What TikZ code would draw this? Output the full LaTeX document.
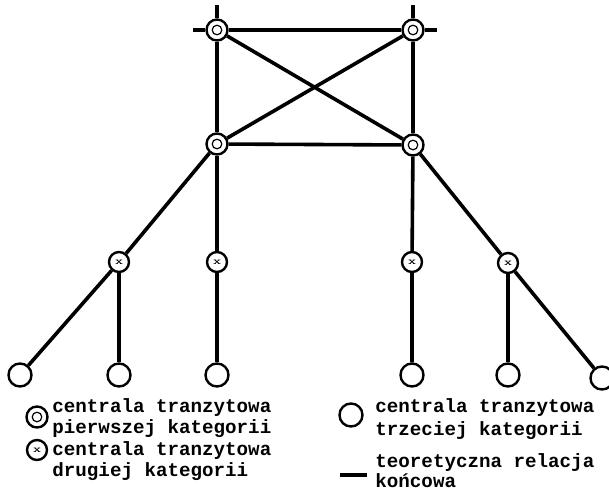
\documentclass[tikz,border=0pt]{standalone}
\usepackage{fontspec}
\newfontfamily\opisfont{Liberation Mono}
\usepackage{tikz}
\usetikzlibrary{positioning}

\begin{document}
\begin{tikzpicture}[x=0.5pt, y=-0.5pt,
      kat1/.style={circle, draw, line width=1.2pt, fill=white, inner sep=0pt,
                   minimum size=10.5pt,
                   path picture={\draw[line width=0.6pt] (path picture bounding box.center) circle (2.4pt);}},
      kat2/.style={circle, draw, line width=1.2pt, fill=white, inner sep=0pt,
                   minimum size=10pt, font=\tiny\bfseries},
      kat3/.style={circle, draw, line width=1.2pt, fill=white, inner sep=0pt,
                   minimum size=11.5pt},
      rel/.style={line width=1.8pt},
      opis/.style={anchor=base west, inner sep=0pt,
                   font=\opisfont\bfseries\fontsize{9.6}{10}\selectfont}
    ]
      \useasboundingbox (0,0) rectangle (609,499);
      % centrale pierwszej kategorii
      \node[kat1] (gl) at (217,30) {};
      \node[kat1] (gp) at (413,30) {};
      \node[kat1] (dl) at (217,144) {};
      \node[kat1] (dp) at (413,145) {};
      \coordinate (gl-w) at (193,30);
      \coordinate (gl-n) at (217,5);
      \coordinate (gp-e) at (437,30);
      \coordinate (gp-n) at (413,5);
      % centrale drugiej kategorii
      \node[kat2] (a2) at (119,262) {x};
      \node[kat2] (b2) at (217,262) {x};
      \node[kat2] (c2) at (412,262) {x};
      \node[kat2] (d2) at (508,263) {x};
      % centrale trzeciej kategorii
      \node[kat3] (a3) at (20,375) {};
      \node[kat3] (b3) at (119,375) {};
      \node[kat3] (c3) at (217,375) {};
      \node[kat3] (d3) at (412,375) {};
      \node[kat3] (e3) at (508,375) {};
      \node[kat3] (f3) at (602,378) {};
      % relacje
      \draw[rel] (gl-w) -- (gl) -- (gp) -- (gp-e);
      \draw[rel] (gl-n) -- (gl) -- (dl);
      \draw[rel] (gp-n) -- (gp) -- (dp);
      \draw[rel] (gl) -- (dp);
      \draw[rel] (gp) -- (dl);
      \draw[rel] (dl) -- (dp);
      \draw[rel] (dl) -- (a2) -- (a3);
      \draw[rel] (a2) -- (b3);
      \draw[rel] (dl) -- (b2) -- (c3);
      \draw[rel] (dp) -- (c2) -- (d3);
      \draw[rel] (dp) -- (d2) -- (f3);
      \draw[rel] (d2) -- (e3);
      % legenda
      \node[kat1] (l1) at (37,417) {};
      \node[opis] (t1) at (52,412) {centrala tranzytowa};
      \node[opis] (t2) at (52,433) {pierwszej kategorii};
      \node[kat2] (l2) at (37,450) {x};
      \node[opis] (t3) at (52,455) {centrala tranzytowa};
      \node[opis] (t4) at (52,476) {drugiej kategorii};
      \node[kat3] (l3) at (351,415) {};
      \node[opis] (t5) at (375,412) {centrala tranzytowa};
      \node[opis] (t6) at (375,435) {trzeciej kategorii};
      \coordinate (l4a) at (340,475);
      \coordinate (l4b) at (367,475);
      \draw[rel, line width=2.2pt] (l4a) -- (l4b);
      \node[opis] (t7) at (375,467) {teoretyczna relacja};
      \node[opis] (t8) at (375,487) {końcowa};
    \end{tikzpicture}
\end{document}
